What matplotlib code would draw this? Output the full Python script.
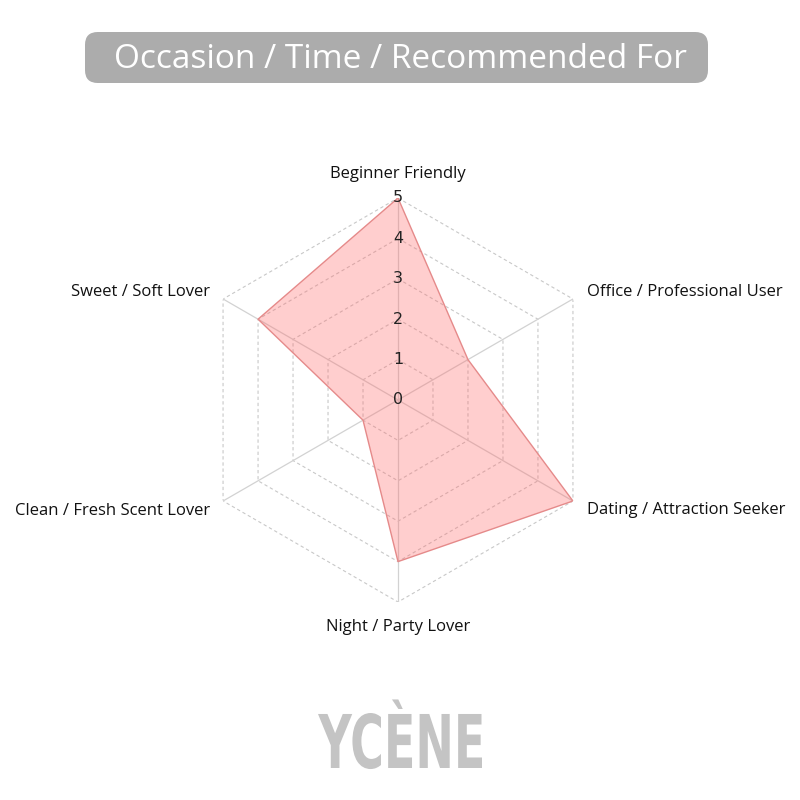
import numpy as np
import matplotlib
matplotlib.use("Agg")
import matplotlib.pyplot as plt
from matplotlib.patches import FancyBboxPatch, PathPatch
from matplotlib.textpath import TextPath
from matplotlib.font_manager import FontProperties
from matplotlib.transforms import Affine2D

# chart data
labels = ["Beginner Friendly", "Office / Professional User", "Dating / Attraction Seeker",
          "Night / Party Lover", "Clean / Fresh Scent Lover", "Sweet / Soft Lover"]
scores = [5, 2, 5, 4, 1, 4]
ticks = [0, 1, 2, 3, 4, 5]
title = "Occasion / Time / Recommended For"
brand = "YC\u00c8NE"

plt.rcParams['font.family'] = ['Open Sans', 'DejaVu Sans']

fig = plt.figure(figsize=(8, 8), dpi=100)
fig.patch.set_facecolor("white")

ax = fig.add_axes([0.245, 0.2475, 0.505, 0.505], projection="polar")
ax.set_theta_zero_location("N")
ax.set_theta_direction(-1)
ax.set_ylim(0, 5)
ax.grid(False)
ax.spines["polar"].set_visible(False)
ax.set_xticks([])
ax.set_yticks([])
ax.set_facecolor("none")

n = len(labels)
angles = np.linspace(0, 2 * np.pi, n, endpoint=False)
ring = np.append(angles, angles[0])

# hexagon grid
for t in ticks[1:]:
    ax.plot(ring, [t] * (n + 1), color="#c8c8c8", lw=0.8, ls=(0, (3, 2.5)), zorder=1)
# spokes
for a in angles:
    ax.plot([a, a], [0, 5], color="#d2d2d2", lw=0.9, zorder=1)

vals = scores + scores[:1]
ax.fill(ring, vals, color="#ff6b6b", alpha=0.33, lw=0, zorder=2)
ax.plot(ring, vals, color="#e58a8a", lw=1.0, zorder=3)

for t in ticks:
    ax.text(0, t, str(t), ha="center", va="center", fontsize=11.5,
            color="#222222", family=["DejaVu Sans"], zorder=4)

offsets = [(0, 24), (14, 7), (14, -9), (0, -25), (-13, -10), (-13, 7)]
aligns = [("center", "center"), ("left", "center"), ("left", "center"),
          ("center", "center"), ("right", "center"), ("right", "center")]
for a, lab, off, al in zip(angles, labels, offsets, aligns):
    ax.annotate(lab, xy=(a, 5), xytext=(off[0] * 0.72, off[1] * 0.72),
                textcoords="offset points", ha=al[0], va=al[1],
                fontsize=12, color="#111111", annotation_clip=False)

# title box
box = FancyBboxPatch((85 / 800, 1 - 83 / 800), 623 / 800, 51 / 800,
                     boxstyle="round,pad=0,rounding_size=0.016",
                     transform=fig.transFigure, facecolor="#acacac",
                     edgecolor="none")
fig.patches.append(box)
fig.text(400 / 800, 1 - 60 / 800, title, ha="center", va="center",
         fontsize=24, color="white")

# brand mark, squeezed to look condensed
fp = FontProperties(family="DejaVu Sans", weight="bold")
tp = TextPath((0, 0), brand, size=100, prop=fp)
cap = TextPath((0, 0), "YCENE", size=100, prop=fp).get_extents()
ext = tp.get_extents()
sx = 164 / ext.width
sy = 55 / cap.y1
tr = (Affine2D().translate(-ext.x0, 0).scale(sx, sy).translate(318, 32)
      .scale(1 / 800) + fig.transFigure)
fig.patches.append(PathPatch(tp, transform=tr, facecolor="#c4c4c4", edgecolor="none"))

fig.savefig("out.png", dpi=100, facecolor="white")
